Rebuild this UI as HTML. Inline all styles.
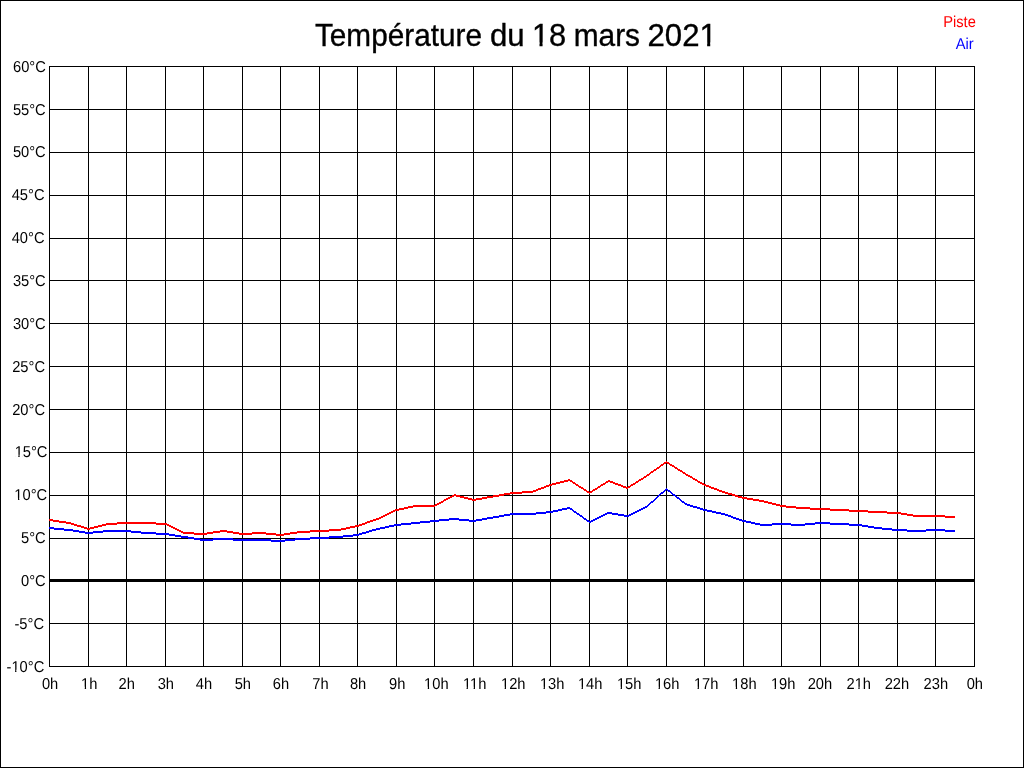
<!DOCTYPE html>
<html><head><meta charset="utf-8"><title>Température du 18 mars 2021</title>
<style>
html,body{margin:0;padding:0;background:#fff;}
body{width:1024px;height:768px;overflow:hidden;}
svg{display:block;}
text{font-family:"Liberation Sans",Arial,sans-serif;}
</style></head><body>
<svg width="1024" height="768" viewBox="0 0 1024 768" shape-rendering="crispEdges">
<rect x="0" y="0" width="1024" height="768" fill="#fff"/>
<path d="M0 0h1024v768h-1024zM1 1v766h1022v-766z" fill="#000" fill-rule="evenodd"/>
<path d="M49 66h1v601h-1zM88 66h1v601h-1zM126 66h1v601h-1zM165 66h1v601h-1zM203 66h1v601h-1zM242 66h1v601h-1zM280 66h1v601h-1zM319 66h1v601h-1zM357 66h1v601h-1zM396 66h1v601h-1zM434 66h1v601h-1zM473 66h1v601h-1zM512 66h1v601h-1zM550 66h1v601h-1zM589 66h1v601h-1zM627 66h1v601h-1zM666 66h1v601h-1zM704 66h1v601h-1zM743 66h1v601h-1zM781 66h1v601h-1zM820 66h1v601h-1zM858 66h1v601h-1zM897 66h1v601h-1zM935 66h1v601h-1zM974 66h1v601h-1zM49 66h926v1h-926zM49 109h926v1h-926zM49 152h926v1h-926zM49 195h926v1h-926zM49 238h926v1h-926zM49 280h926v1h-926zM49 323h926v1h-926zM49 366h926v1h-926zM49 409h926v1h-926zM49 452h926v1h-926zM49 495h926v1h-926zM49 538h926v1h-926zM49 580h926v1h-926zM49 623h926v1h-926zM49 666h926v1h-926z" fill="#000"/>
<path d="M49 579h926v3h-926z" fill="#000"/>
<path d="M49 519h4v2h-4zM53 520h6v2h-6zM59 521h7v2h-7zM66 522h5v2h-5zM71 523h3v2h-3zM74 524h3v2h-3zM77 525h4v2h-4zM81 526h3v2h-3zM84 527h3v2h-3zM87 528h3v2h-3zM90 527h4v2h-4zM94 526h4v2h-4zM98 525h4v2h-4zM102 524h4v2h-4zM106 523h11v2h-11zM117 522h39v2h-39zM156 523h11v2h-11zM167 524h2v2h-2zM169 525h2v2h-2zM171 526h2v2h-2zM173 527h2v2h-2zM175 528h2v2h-2zM177 529h2v2h-2zM179 530h2v2h-2zM181 531h2v2h-2zM183 532h11v2h-11zM194 533h13v2h-13zM207 532h6v2h-6zM213 531h7v2h-7zM220 530h7v2h-7zM227 531h6v2h-6zM233 532h6v2h-6zM239 533h13v2h-13zM252 532h14v2h-14zM266 533h10v2h-10zM276 534h8v2h-8zM284 533h6v2h-6zM290 532h7v2h-7zM297 531h13v2h-13zM310 530h19v2h-19zM329 529h12v2h-12zM341 528h5v2h-5zM346 527h4v2h-4zM350 526h5v2h-5zM355 525h4v2h-4zM359 524h3v2h-3zM362 523h3v2h-3zM365 522h2v2h-2zM367 521h3v2h-3zM370 520h3v2h-3zM373 519h3v2h-3zM376 518h3v2h-3zM379 517h2v2h-2zM381 516h2v2h-2zM383 515h2v2h-2zM385 514h2v2h-2zM387 513h2v2h-2zM389 512h2v2h-2zM391 511h2v2h-2zM393 510h2v2h-2zM395 509h4v2h-4zM399 508h5v2h-5zM404 507h4v2h-4zM408 506h5v2h-5zM413 505h22v2h-22zM435 504h2v2h-2zM437 503h2v2h-2zM439 502h2v2h-2zM441 501h2v2h-2zM443 500h1v2h-1zM444 499h2v2h-2zM446 498h2v2h-2zM448 497h2v2h-2zM450 496h2v2h-2zM452 495h2v2h-2zM454 494h2v2h-2zM456 495h4v2h-4zM460 496h4v2h-4zM464 497h4v2h-4zM468 498h4v2h-4zM472 499h4v2h-4zM476 498h6v2h-6zM482 497h5v2h-5zM487 496h6v2h-6zM493 495h6v2h-6zM499 494h5v2h-5zM504 493h6v2h-6zM510 492h12v2h-12zM522 491h11v2h-11zM533 490h3v2h-3zM536 489h2v2h-2zM538 488h3v2h-3zM541 487h3v2h-3zM544 486h2v2h-2zM546 485h3v2h-3zM549 484h3v2h-3zM552 483h4v2h-4zM556 482h4v2h-4zM560 481h4v2h-4zM564 480h4v2h-4zM568 479h2v2h-2zM570 480h2v2h-2zM572 481h1v2h-1zM573 482h2v2h-2zM575 483h1v2h-1zM576 484h2v2h-2zM578 485h1v2h-1zM579 486h2v2h-2zM581 487h2v2h-2zM583 488h1v2h-1zM584 489h2v2h-2zM586 490h1v2h-1zM587 491h2v2h-2zM589 492h1v2h-1zM590 491h2v2h-2zM592 490h1v2h-1zM593 489h2v2h-2zM595 488h2v2h-2zM597 487h1v2h-1zM598 486h2v2h-2zM600 485h1v2h-1zM601 484h2v2h-2zM603 483h2v2h-2zM605 482h1v2h-1zM606 481h2v2h-2zM608 480h2v2h-2zM610 481h3v2h-3zM613 482h2v2h-2zM615 483h3v2h-3zM618 484h3v2h-3zM621 485h2v2h-2zM623 486h3v2h-3zM626 487h2v2h-2zM628 486h2v2h-2zM630 485h1v2h-1zM631 484h2v2h-2zM633 483h2v2h-2zM635 482h1v2h-1zM636 481h2v2h-2zM638 480h1v2h-1zM639 479h2v2h-2zM641 478h2v2h-2zM643 477h1v2h-1zM644 476h2v2h-2zM646 475h1v2h-1zM647 474h2v2h-2zM649 473h1v2h-1zM650 472h1v2h-1zM651 471h2v2h-2zM653 470h1v2h-1zM654 469h2v2h-2zM656 468h1v2h-1zM657 467h2v2h-2zM659 466h1v2h-1zM660 465h1v2h-1zM661 464h2v2h-2zM663 463h1v2h-1zM664 462h2v2h-2zM666 461h1v2h-1zM667 462h2v2h-2zM669 463h1v2h-1zM670 464h2v2h-2zM672 465h2v2h-2zM674 466h1v2h-1zM675 467h2v2h-2zM677 468h1v2h-1zM678 469h2v2h-2zM680 470h2v2h-2zM682 471h1v2h-1zM683 472h2v2h-2zM685 473h1v2h-1zM686 474h2v2h-2zM688 475h2v2h-2zM690 476h2v2h-2zM692 477h1v2h-1zM693 478h2v2h-2zM695 479h2v2h-2zM697 480h1v2h-1zM698 481h2v2h-2zM700 482h2v2h-2zM702 483h2v2h-2zM704 484h2v2h-2zM706 485h3v2h-3zM709 486h2v2h-2zM711 487h3v2h-3zM714 488h3v2h-3zM717 489h2v2h-2zM719 490h3v2h-3zM722 491h3v2h-3zM725 492h3v2h-3zM728 493h4v2h-4zM732 494h3v2h-3zM735 495h3v2h-3zM738 496h4v2h-4zM742 497h5v2h-5zM747 498h6v2h-6zM753 499h6v2h-6zM759 500h5v2h-5zM764 501h4v2h-4zM768 502h4v2h-4zM772 503h4v2h-4zM776 504h4v2h-4zM780 505h6v2h-6zM786 506h10v2h-10zM796 507h14v2h-14zM810 508h20v2h-20zM830 509h19v2h-19zM849 510h19v2h-19zM868 511h19v2h-19zM887 512h14v2h-14zM901 513h6v2h-6zM907 514h6v2h-6zM913 515h32v2h-32zM945 516h10v2h-10z" fill="#f00"/>
<path d="M49 527h5v2h-5zM54 528h10v2h-10zM64 529h9v2h-9zM73 530h6v2h-6zM79 531h6v2h-6zM85 532h8v2h-8zM93 531h10v2h-10zM103 530h28v2h-28zM131 531h10v2h-10zM141 532h15v2h-15zM156 533h13v2h-13zM169 534h6v2h-6zM175 535h6v2h-6zM181 536h7v2h-7zM188 537h6v2h-6zM194 538h6v2h-6zM200 539h13v2h-13zM213 538h20v2h-20zM233 539h38v2h-38zM271 540h14v2h-14zM285 539h10v2h-10zM295 538h15v2h-15zM310 537h19v2h-19zM329 536h14v2h-14zM343 535h10v2h-10zM353 534h6v2h-6zM359 533h3v2h-3zM362 532h4v2h-4zM366 531h3v2h-3zM369 530h3v2h-3zM372 529h4v2h-4zM376 528h4v2h-4zM380 527h5v2h-5zM385 526h4v2h-4zM389 525h5v2h-5zM394 524h7v2h-7zM401 523h10v2h-10zM411 522h9v2h-9zM420 521h10v2h-10zM430 520h9v2h-9zM439 519h10v2h-10zM449 518h10v2h-10zM459 519h10v2h-10zM469 520h7v2h-7zM476 519h6v2h-6zM482 518h5v2h-5zM487 517h6v2h-6zM493 516h6v2h-6zM499 515h5v2h-5zM504 514h6v2h-6zM510 513h26v2h-26zM536 512h10v2h-10zM546 511h7v2h-7zM553 510h5v2h-5zM558 509h4v2h-4zM562 508h5v2h-5zM567 507h3v2h-3zM570 508h2v2h-2zM572 509h1v2h-1zM573 510h1v2h-1zM574 511h2v2h-2zM576 512h1v2h-1zM577 513h2v2h-2zM579 514h1v2h-1zM580 515h2v2h-2zM582 516h1v2h-1zM583 517h1v2h-1zM584 518h2v2h-2zM586 519h1v2h-1zM587 520h2v2h-2zM589 521h2v2h-2zM591 520h2v2h-2zM593 519h2v2h-2zM595 518h2v2h-2zM597 517h2v2h-2zM599 516h2v2h-2zM601 515h2v2h-2zM603 514h2v2h-2zM605 513h2v2h-2zM607 512h5v2h-5zM612 513h6v2h-6zM618 514h6v2h-6zM624 515h5v2h-5zM629 514h2v2h-2zM631 513h2v2h-2zM633 512h2v2h-2zM635 511h2v2h-2zM637 510h2v2h-2zM639 509h2v2h-2zM641 508h2v2h-2zM643 507h2v2h-2zM645 506h2v2h-2zM647 505h1v2h-1zM648 504h1v2h-1zM649 503h1v2h-1zM650 502h1v2h-1zM651 501h2v2h-2zM653 500h1v2h-1zM654 499h1v2h-1zM655 498h1v2h-1zM656 497h1v2h-1zM657 496h1v2h-1zM658 495h1v2h-1zM659 494h1v2h-1zM660 493h1v2h-1zM661 492h2v2h-2zM663 491h1v2h-1zM664 490h1v2h-1zM665 489h1v2h-1zM666 488h1v2h-1zM667 489h1v2h-1zM668 490h2v2h-2zM670 491h1v2h-1zM671 492h1v2h-1zM672 493h1v2h-1zM673 494h2v2h-2zM675 495h1v2h-1zM676 496h1v2h-1zM677 497h2v2h-2zM679 498h1v2h-1zM680 499h1v2h-1zM681 500h1v2h-1zM682 501h2v2h-2zM684 502h1v2h-1zM685 503h2v2h-2zM687 504h3v2h-3zM690 505h3v2h-3zM693 506h4v2h-4zM697 507h3v2h-3zM700 508h3v2h-3zM703 509h4v2h-4zM707 510h5v2h-5zM712 511h4v2h-4zM716 512h5v2h-5zM721 513h4v2h-4zM725 514h3v2h-3zM728 515h3v2h-3zM731 516h2v2h-2zM733 517h3v2h-3zM736 518h3v2h-3zM739 519h3v2h-3zM742 520h4v2h-4zM746 521h5v2h-5zM751 522h4v2h-4zM755 523h5v2h-5zM760 524h12v2h-12zM772 523h19v2h-19zM791 524h14v2h-14zM805 523h10v2h-10zM815 522h15v2h-15zM830 523h19v2h-19zM849 524h13v2h-13zM862 525h6v2h-6zM868 526h6v2h-6zM874 527h8v2h-8zM882 528h10v2h-10zM892 529h15v2h-15zM907 530h19v2h-19zM926 529h19v2h-19zM945 530h10v2h-10z" fill="#00f"/>
<g font-size="15.8" fill="#000" shape-rendering="auto" text-rendering="geometricPrecision">
<g transform="translate(29.38,72) scale(0.93,1.0)"><text text-anchor="middle">60°C</text></g><g transform="translate(29.30,115) scale(0.93,1.0)"><text text-anchor="middle">55°C</text></g><g transform="translate(29.30,157) scale(0.93,1.0)"><text text-anchor="middle">50°C</text></g><g transform="translate(28.10,200) scale(0.93,1.0)"><text text-anchor="middle">45°C</text></g><g transform="translate(28.10,243) scale(0.93,1.0)"><text text-anchor="middle">40°C</text></g><g transform="translate(29.30,286) scale(0.93,1.0)"><text text-anchor="middle">35°C</text></g><g transform="translate(29.30,329) scale(0.93,1.0)"><text text-anchor="middle">30°C</text></g><g transform="translate(28.60,372) scale(0.93,1.0)"><text text-anchor="middle">25°C</text></g><g transform="translate(28.60,415) scale(0.93,1.0)"><text text-anchor="middle">20°C</text></g><g transform="translate(31.05,457) scale(0.93,1.0)"><text text-anchor="middle">15°C</text><path d="M-16.95 -2.18H-13.68V1.20H-16.95zM-12.28 -2.18H-9.01V1.20H-12.28z" fill="#fff" stroke="none" shape-rendering="auto"/></g><g transform="translate(30.75,500) scale(0.93,1.0)"><text text-anchor="middle">10°C</text><path d="M-16.95 -2.18H-13.68V1.20H-16.95zM-12.28 -2.18H-9.01V1.20H-12.28z" fill="#fff" stroke="none" shape-rendering="auto"/></g><g transform="translate(33.40,543) scale(0.93,1.0)"><text text-anchor="middle">5°C</text></g><g transform="translate(33.40,586) scale(0.93,1.0)"><text text-anchor="middle">0°C</text></g><g transform="translate(29.25,629) scale(0.93,1.0)"><text text-anchor="middle">-5°C</text></g><g transform="translate(25.38,672) scale(0.93,1.0)"><text text-anchor="middle">-10°C</text><path d="M-14.34 -2.18H-11.06V1.20H-14.34zM-9.66 -2.18H-6.39V1.20H-9.66z" fill="#fff" stroke="none" shape-rendering="auto"/></g>
<g transform="translate(50.05,689) scale(0.93,1.0)"><text text-anchor="middle">0h</text></g><g transform="translate(89.25,689) scale(0.93,1.0)"><text text-anchor="middle">1h</text><path d="M-8.09 -2.18H-4.82V1.20H-8.09zM-3.42 -2.18H-0.15V1.20H-3.42z" fill="#fff" stroke="none" shape-rendering="auto"/></g><g transform="translate(126.75,689) scale(0.93,1.0)"><text text-anchor="middle">2h</text></g><g transform="translate(165.85,689) scale(0.93,1.0)"><text text-anchor="middle">3h</text></g><g transform="translate(203.95,689) scale(0.93,1.0)"><text text-anchor="middle">4h</text></g><g transform="translate(242.80,689) scale(0.93,1.0)"><text text-anchor="middle">5h</text></g><g transform="translate(280.90,689) scale(0.93,1.0)"><text text-anchor="middle">6h</text></g><g transform="translate(320.50,689) scale(0.93,1.0)"><text text-anchor="middle">7h</text></g><g transform="translate(358.05,689) scale(0.93,1.0)"><text text-anchor="middle">8h</text></g><g transform="translate(397.20,689) scale(0.93,1.0)"><text text-anchor="middle">9h</text></g><g transform="translate(436.35,689) scale(0.93,1.0)"><text text-anchor="middle">10h</text><path d="M-12.49 -2.18H-9.21V1.20H-12.49zM-7.81 -2.18H-4.54V1.20H-7.81z" fill="#fff" stroke="none" shape-rendering="auto"/></g><g transform="translate(474.60,689) scale(0.93,1.0)"><text text-anchor="middle">11h</text><path d="M-11.90 -2.18H-8.62V1.20H-11.90zM-7.22 -2.18H-3.95V1.20H-7.22z" fill="#fff" stroke="none" shape-rendering="auto"/><path d="M-4.29 -2.18H-1.01V1.20H-4.29zM0.39 -2.18H3.66V1.20H0.39z" fill="#fff" stroke="none" shape-rendering="auto"/></g><g transform="translate(513.25,689) scale(0.93,1.0)"><text text-anchor="middle">12h</text><path d="M-12.49 -2.18H-9.21V1.20H-12.49zM-7.81 -2.18H-4.54V1.20H-7.81z" fill="#fff" stroke="none" shape-rendering="auto"/></g><g transform="translate(552.15,689) scale(0.93,1.0)"><text text-anchor="middle">13h</text><path d="M-12.49 -2.18H-9.21V1.20H-12.49zM-7.81 -2.18H-4.54V1.20H-7.81z" fill="#fff" stroke="none" shape-rendering="auto"/></g><g transform="translate(590.15,689) scale(0.93,1.0)"><text text-anchor="middle">14h</text><path d="M-12.49 -2.18H-9.21V1.20H-12.49zM-7.81 -2.18H-4.54V1.20H-7.81z" fill="#fff" stroke="none" shape-rendering="auto"/></g><g transform="translate(629.20,689) scale(0.93,1.0)"><text text-anchor="middle">15h</text><path d="M-12.49 -2.18H-9.21V1.20H-12.49zM-7.81 -2.18H-4.54V1.20H-7.81z" fill="#fff" stroke="none" shape-rendering="auto"/></g><g transform="translate(667.15,689) scale(0.93,1.0)"><text text-anchor="middle">16h</text><path d="M-12.49 -2.18H-9.21V1.20H-12.49zM-7.81 -2.18H-4.54V1.20H-7.81z" fill="#fff" stroke="none" shape-rendering="auto"/></g><g transform="translate(706.15,689) scale(0.93,1.0)"><text text-anchor="middle">17h</text><path d="M-12.49 -2.18H-9.21V1.20H-12.49zM-7.81 -2.18H-4.54V1.20H-7.81z" fill="#fff" stroke="none" shape-rendering="auto"/></g><g transform="translate(744.35,689) scale(0.93,1.0)"><text text-anchor="middle">18h</text><path d="M-12.49 -2.18H-9.21V1.20H-12.49zM-7.81 -2.18H-4.54V1.20H-7.81z" fill="#fff" stroke="none" shape-rendering="auto"/></g><g transform="translate(783.20,689) scale(0.93,1.0)"><text text-anchor="middle">19h</text><path d="M-12.49 -2.18H-9.21V1.20H-12.49zM-7.81 -2.18H-4.54V1.20H-7.81z" fill="#fff" stroke="none" shape-rendering="auto"/></g><g transform="translate(819.90,689) scale(0.93,1.0)"><text text-anchor="middle">20h</text></g><g transform="translate(858.75,689) scale(0.93,1.0)"><text text-anchor="middle">21h</text><path d="M-3.70 -2.18H-0.43V1.20H-3.70zM0.97 -2.18H4.24V1.20H0.97z" fill="#fff" stroke="none" shape-rendering="auto"/></g><g transform="translate(896.90,689) scale(0.93,1.0)"><text text-anchor="middle">22h</text></g><g transform="translate(935.80,689) scale(0.93,1.0)"><text text-anchor="middle">23h</text></g><g transform="translate(974.80,689) scale(0.93,1.0)"><text text-anchor="middle">0h</text></g>
</g>
<g font-size="31" fill="#000" stroke="#000" stroke-width="0.35"><g transform="translate(314.94,46) scale(0.9609,1)"><text>Température</text></g><g transform="translate(489.99,46) scale(1.0065,1)"><text>du</text></g><g transform="translate(531.91,46) scale(0.9952,1)"><text>18</text><path d="M1.36 -3.49H7.62V1.38H1.36zM10.71 -3.49H16.95V1.38H10.71z" fill="#fff" stroke="none" shape-rendering="auto"/></g><g transform="translate(573.67,46) scale(0.9636,1)"><text>mars</text></g><g transform="translate(647.54,46) scale(1.005,1)"><text>2021</text><path d="M53.05 -3.49H59.30V1.38H53.05zM62.39 -3.49H68.64V1.38H62.39z" fill="#fff" stroke="none" shape-rendering="auto"/></g></g>
<text transform="translate(959.5,27) scale(0.93,1.0)" text-anchor="middle" font-size="15.8" text-rendering="geometricPrecision" fill="#f00">Piste</text>
<text transform="translate(964.7,49) scale(0.93,1.0)" text-anchor="middle" font-size="15.8" text-rendering="geometricPrecision" fill="#00f">Air</text>
</svg>
</body></html>
